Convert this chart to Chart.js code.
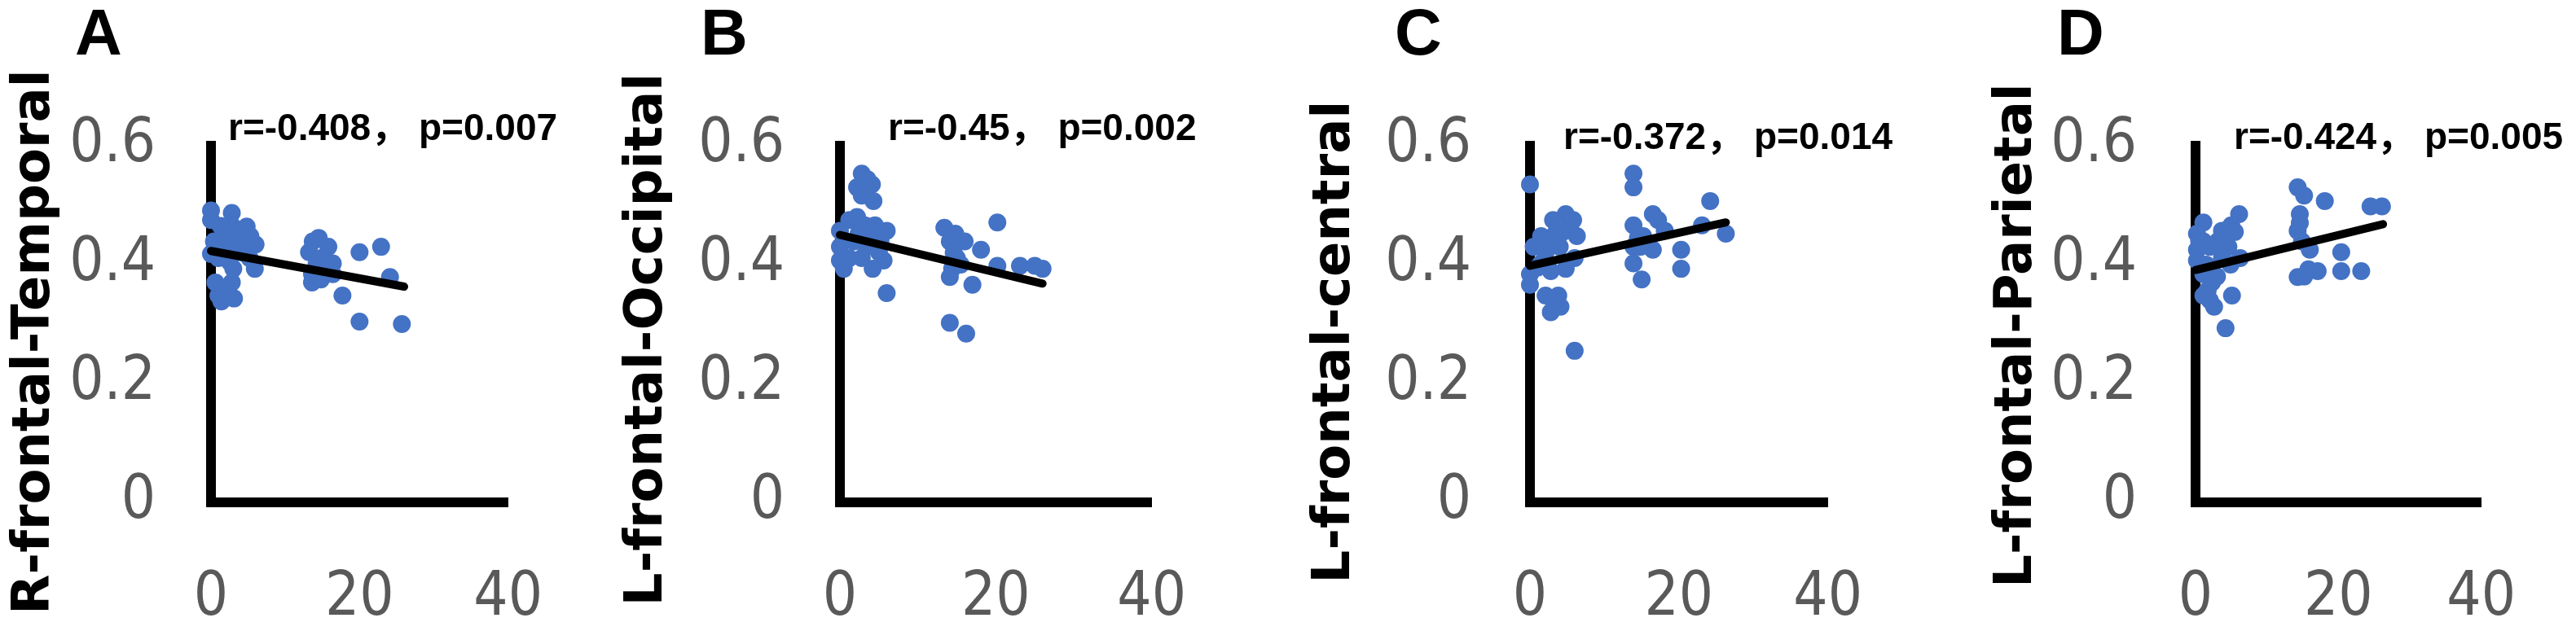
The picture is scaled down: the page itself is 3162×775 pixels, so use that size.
<!DOCTYPE html>
<html>
<head>
<meta charset="utf-8">
<script src="https://cdn.jsdelivr.net/npm/chart.js@4.4.1/dist/chart.umd.min.js"></script>
<style>
  html, body { margin: 0; padding: 0; background: #ffffff; width: 3162px; height: 775px; overflow: hidden; }
  canvas { position: absolute; top: 0; }
</style>
</head>
<body>
<canvas id="cA" width="740" height="775" style="left:0px"></canvas>
<canvas id="cB" width="790" height="775" style="left:740px"></canvas>
<canvas id="cC" width="800" height="775" style="left:1560px"></canvas>
<canvas id="cD" width="782" height="775" style="left:2380px"></canvas>
<script>
// ---------- data ----------
const panelLetters = ['A', 'B', 'C', 'D'];
const yTitles = ['R-frontal-Temporal', 'L-frontal-Occipital', 'L-frontal-central', 'L-frontal-Parietal'];
const statLabels = ['r=-0.408， p=0.007', 'r=-0.45， p=0.002', 'r=-0.372， p=0.014', 'r=-0.424， p=0.005'];
const xTicks = [0, 20, 40];
const xTickLabels = ['0', '20', '40'];
const yTicks = [0, 0.2, 0.4, 0.6];
const yTickLabels = ['0', '0.2', '0.4', '0.6'];

const pointsA = [
  {x:0,y:0.491},{x:0,y:0.475},{x:0,y:0.418},{x:0.4,y:0.439},
  {x:2.8,y:0.487},{x:2.8,y:0.466},{x:4.8,y:0.464},{x:5.3,y:0.448},{x:6.0,y:0.434},
  {x:2.0,y:0.452},{x:3.6,y:0.452},{x:1.7,y:0.430},{x:3.6,y:0.430},{x:5.2,y:0.411},
  {x:5.9,y:0.393},{x:1.0,y:0.411},{x:3.0,y:0.393},{x:2.8,y:0.370},{x:1.0,y:0.348},
  {x:1.4,y:0.338},{x:3.1,y:0.343},{x:2.2,y:0.357},{x:4.3,y:0.420},{x:2.5,y:0.405},
  {x:1.3,y:0.465},{x:4.0,y:0.440},{x:0.6,y:0.370},
  {x:13.7,y:0.439},{x:15.8,y:0.430},{x:13.2,y:0.421},{x:14.8,y:0.411},{x:16.4,y:0.402},
  {x:13.6,y:0.384},{x:13.6,y:0.370},{x:14.8,y:0.375},{x:16.4,y:0.384},{x:17.7,y:0.348},
  {x:14.5,y:0.445},{x:14.2,y:0.400},
  {x:20.0,y:0.421},{x:22.9,y:0.430},{x:24.1,y:0.379},{x:20.0,y:0.304},{x:25.7,y:0.300}
];
const fitA = [{x:0,y:0.423},{x:26,y:0.363}];

const pointsB = [
  {x:2.8,y:0.553},{x:2.2,y:0.530},{x:4.1,y:0.535},{x:4.3,y:0.507},{x:2.8,y:0.516},{x:3.5,y:0.544},
  {x:0,y:0.457},{x:0,y:0.430},{x:0,y:0.407},{x:1.2,y:0.475},{x:2.2,y:0.480},{x:3.2,y:0.466},
  {x:4.5,y:0.466},{x:6.0,y:0.457},{x:1.8,y:0.439},{x:3.4,y:0.430},{x:5.0,y:0.421},{x:5.6,y:0.407},
  {x:4.2,y:0.393},{x:2.8,y:0.411},{x:1.2,y:0.411},{x:0.5,y:0.393},{x:5.2,y:0.440},{x:2.4,y:0.452},
  {x:3.8,y:0.450},{x:6.0,y:0.352},
  {x:13.4,y:0.462},{x:14.8,y:0.452},{x:16.0,y:0.439},{x:14.1,y:0.439},{x:18.1,y:0.425},
  {x:15.0,y:0.411},{x:14.1,y:0.379},{x:14.4,y:0.393},{x:17.0,y:0.366},{x:20.2,y:0.471},
  {x:20.2,y:0.398},{x:23.1,y:0.398},{x:26.0,y:0.393},{x:25.0,y:0.398},{x:14.6,y:0.420},{x:15.5,y:0.400},
  {x:14.1,y:0.302},{x:16.2,y:0.284}
];
const fitB = [{x:0,y:0.450},{x:26,y:0.368}];

const pointsC = [
  {x:0,y:0.535},
  {x:13.9,y:0.553},{x:13.9,y:0.530},{x:24.2,y:0.507},{x:23.1,y:0.466},{x:26.3,y:0.452},
  {x:13.9,y:0.466},{x:16.5,y:0.485},{x:17.2,y:0.475},{x:18.1,y:0.457},{x:15.2,y:0.448},
  {x:13.9,y:0.430},{x:16.5,y:0.425},{x:13.9,y:0.402},{x:15.0,y:0.375},{x:20.3,y:0.425},
  {x:20.3,y:0.393},{x:14.5,y:0.445},{x:14.8,y:0.430},
  {x:4.8,y:0.485},{x:5.4,y:0.466},{x:6.3,y:0.448},{x:3.1,y:0.475},{x:1.5,y:0.448},{x:0.5,y:0.430},
  {x:2.1,y:0.421},{x:4.0,y:0.430},{x:6.0,y:0.411},{x:4.8,y:0.393},{x:2.8,y:0.389},{x:0,y:0.384},
  {x:0,y:0.366},{x:1.5,y:0.402},{x:3.4,y:0.452},{x:5.8,y:0.475},{x:2.5,y:0.440},{x:4.4,y:0.455},
  {x:1.0,y:0.395},
  {x:2.1,y:0.348},{x:3.8,y:0.348},{x:2.8,y:0.320},{x:4.1,y:0.329},{x:3.2,y:0.338},
  {x:6.0,y:0.255}
];
const fitC = [{x:0,y:0.398},{x:26.3,y:0.471}];

const pointsD = [
  {x:1.1,y:0.471},{x:0.2,y:0.452},{x:0.2,y:0.425},{x:0.2,y:0.407},{x:1.1,y:0.439},{x:0.5,y:0.440},
  {x:6.1,y:0.485},{x:5.0,y:0.466},{x:3.7,y:0.457},{x:3.1,y:0.439},{x:4.6,y:0.430},
  {x:6.25,y:0.411},{x:3.7,y:0.411},{x:4.0,y:0.450},{x:5.5,y:0.455},{x:4.9,y:0.400},
  {x:2.0,y:0.430},{x:1.5,y:0.400},{x:3.0,y:0.380},{x:2.3,y:0.370},
  {x:1.1,y:0.384},{x:1.7,y:0.357},{x:1.1,y:0.348},{x:2.6,y:0.329},{x:5.1,y:0.348},
  {x:4.2,y:0.293},{x:2.0,y:0.340},
  {x:14.3,y:0.530},{x:15.2,y:0.516},{x:18.1,y:0.507},{x:14.6,y:0.485},{x:14.3,y:0.457},
  {x:14.9,y:0.439},{x:16.0,y:0.425},{x:14.3,y:0.379},{x:17.1,y:0.389},{x:20.4,y:0.421},
  {x:20.4,y:0.389},{x:23.2,y:0.389},{x:15.2,y:0.380},{x:14.6,y:0.470},{x:15.8,y:0.392},
  {x:24.5,y:0.498},{x:26.1,y:0.498}
];
const fitD = [{x:0,y:0.391},{x:26.25,y:0.468}];

const seriesPoints = [pointsA, pointsB, pointsC, pointsD];
const seriesFits = [fitA, fitB, fitC, fitD];

// ---------- layout (pixels) ----------
const layoutCfg = [
  {id:'cA', left:0,    width:740, axisX:259,  rightX:675,  titleBase:60,   titleCY:420, tickGap:68, letterX:92,   statX:280,  statY:172},
  {id:'cB', left:740,  width:790, axisX:1031, rightX:1445, titleBase:812,  titleCY:417, tickGap:68, letterX:860,  statX:1090, statY:172},
  {id:'cC', left:1560, width:800, axisX:1878, rightX:2288, titleBase:1656, titleCY:420, tickGap:72, letterX:1712, statX:1919, statY:183},
  {id:'cD', left:2380, width:782, axisX:2695, rightX:3111, titleBase:2493, titleCY:412, tickGap:72, letterX:2525, statX:2742, statY:183}
];
const TOP_Y = 179, BOTTOM_Y = 617, H = 775;
const tickFont = {family: '"Liberation Sans Narrow", "DejaVu Sans Condensed", "Liberation Sans", Arial, sans-serif', size: 74, lineHeight: 1.2};

const panelTextPlugin = {
  id: 'panelText',
  afterDraw(chart, args, opts) {
    const ctx = chart.ctx;
    ctx.save();
    ctx.fillStyle = '#000000';
    ctx.textAlign = 'left';
    ctx.textBaseline = 'alphabetic';
    ctx.font = 'bold 80px "Liberation Sans", Arial, sans-serif';
    ctx.fillText(opts.letter, opts.letterX, opts.letterY);
    ctx.font = 'bold 46px "Liberation Sans", Arial, "Noto Sans CJK SC", sans-serif';
    ctx.fillText(opts.stat, opts.statX, opts.statY);
    // rotated y-axis title
    ctx.translate(opts.titleX, opts.titleY);
    ctx.rotate(-Math.PI / 2);
    ctx.textAlign = 'center';
    ctx.textBaseline = 'alphabetic';
    ctx.font = 'bold 64px "DejaVu Sans", sans-serif';
    ctx.fillText(opts.title, 0, 0);
    ctx.restore();
  }
};

layoutCfg.forEach((p, i) => {
  const ctx = document.getElementById(p.id).getContext('2d');
  const yWidth = p.axisX - p.left;
  new Chart(ctx, {
    type: 'scatter',
    data: {
      datasets: [
        {
          data: seriesFits[i],
          showLine: true,
          borderColor: '#000000',
          borderWidth: 10,
          borderCapStyle: 'round',
          pointRadius: 0,
          pointHoverRadius: 0,
          fill: false,
          clip: false,
          order: 1
        },
        {
          data: seriesPoints[i],
          backgroundColor: '#4472C4',
          borderWidth: 0,
          pointRadius: 11,
          pointHoverRadius: 11,
          clip: false,
          order: 2
        }
      ]
    },
    options: {
      responsive: false,
      animation: false,
      devicePixelRatio: 1,
      layout: { padding: { left: 0, top: TOP_Y, right: p.left + p.width - p.rightX, bottom: 0 } },
      plugins: {
        legend: { display: false },
        tooltip: { enabled: false },
        panelText: {
          letter: panelLetters[i], letterX: p.letterX - p.left, letterY: 67,
          stat: statLabels[i], statX: p.statX - p.left, statY: p.statY,
          title: yTitles[i], titleX: p.titleBase - p.left, titleY: p.titleCY
        }
      },
      scales: {
        x: {
          type: 'linear', min: 0, max: 40,
          afterBuildTicks: s => { s.ticks = xTicks.map(v => ({value: v})); },
          afterFit: s => { s.height = H - BOTTOM_Y; },
          grid: { display: false, drawTicks: false },
          border: { display: true, color: '#000000', width: 12 },
          ticks: {
            autoSkip: false, maxRotation: 0, minRotation: 0,
            font: tickFont, color: '#595959', padding: 74,
            callback: (v, idx) => xTickLabels[idx]
          }
        },
        y: {
          type: 'linear', min: 0, max: 0.6,
          afterBuildTicks: s => { s.ticks = yTicks.map(v => ({value: v})); },
          afterFit: s => { s.width = yWidth; },
          grid: { display: false, drawTicks: false },
          border: { display: true, color: '#000000', width: 12 },
          ticks: {
            autoSkip: false,
            font: tickFont, color: '#595959', padding: p.tickGap,
            callback: (v, idx) => yTickLabels[idx]
          },
          title: { display: false }
        }
      }
    },
    plugins: [panelTextPlugin]
  });
});
</script>
</body>
</html>
